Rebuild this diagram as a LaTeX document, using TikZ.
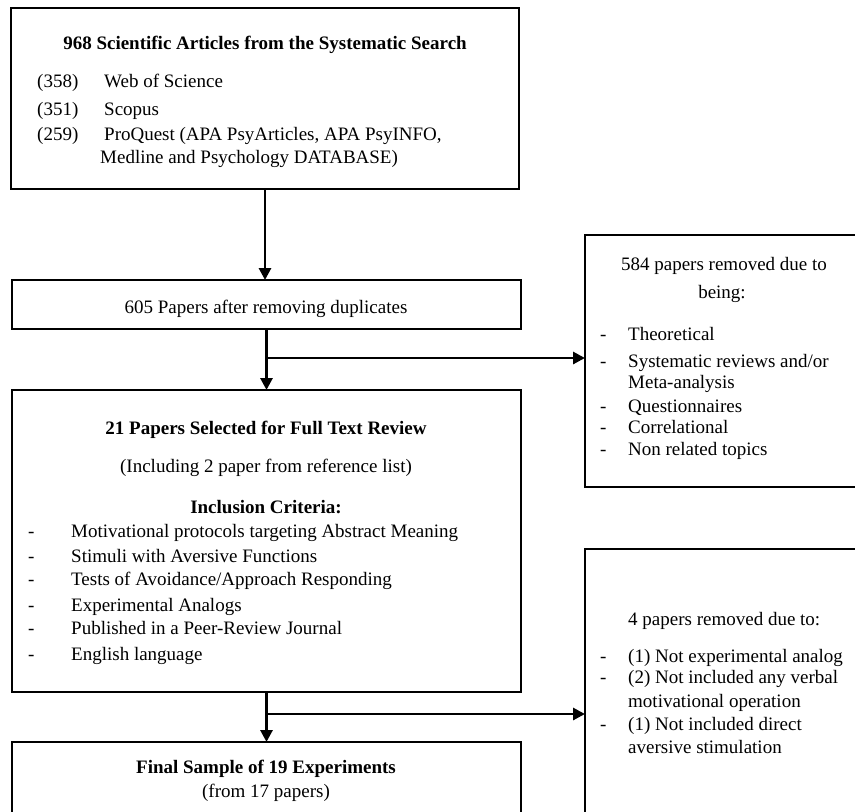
\documentclass[tikz,border=0pt]{standalone}
\usepackage{fontspec}
\setmainfont{Liberation Serif}
\usetikzlibrary{arrows.meta}
\begin{document}
\begin{tikzpicture}[x=1pt,y=-1pt,
  box/.style={draw, line width=1.8pt, rectangle, anchor=north west, inner sep=0pt, outer sep=0pt},
  txt/.style={inner sep=0pt, font=\fontsize{19}{22}\selectfont},
  lt/.style={txt, anchor=base west},
  ct/.style={txt, anchor=base},
  flow/.style={line width=2.9pt, -{Triangle[length=12pt,width=12pt]}}
  ]
\useasboundingbox (0,0) rectangle (855,812);
\clip (0,0) rectangle (855,812);

% boxes
\node[box, minimum width=508pt, minimum height=181pt] (b1) at (11,8) {};
\node[box, minimum width=509pt, minimum height=49pt] (b2) at (12,280) {};
\node[box, minimum width=509pt, minimum height=302pt] (b3) at (12,390) {};
\node[box, minimum width=509pt, minimum height=100pt] (b4) at (12,742) {};
\node[box, minimum width=280pt, minimum height=252pt] (r1) at (585,235) {};
\node[box, minimum width=280pt, minimum height=300pt] (r2) at (585,549) {};

% box 1 text
\node[ct, font=\fontsize{19}{22}\selectfont\bfseries] (t1) at (265,49) {968 Scientific Articles from the Systematic Search};
\node[lt] (n1) at (37,87) {(358)};
\node[lt] (s1) at (104,87) {Web of Science};
\node[lt] (n2) at (37,115) {(351)};
\node[lt] (s2) at (104,115) {Scopus};
\node[lt] (n3) at (37,140) {(259)};
\node[lt] (s3) at (104,140) {ProQuest (APA PsyArticles, APA PsyINFO,};
\node[lt] (s4) at (100,163) {Medline and Psychology DATABASE)};

% box 2 text
\node[ct] (t2) at (266,313) {605 Papers after removing duplicates};

% box 3 text
\node[ct, font=\fontsize{19}{22}\selectfont\bfseries] (t3) at (266,434) {21 Papers Selected for Full Text Review};
\node[ct] (t3b) at (266,472) {(Including 2 paper from reference list)};
\node[ct, font=\fontsize{19}{22}\selectfont\bfseries] (t3c) at (266,513) {Inclusion Criteria:};
\foreach \yy/\tx [count=\i] in {537/Motivational protocols targeting Abstract Meaning,
    562/Stimuli with Aversive Functions,
    585/Tests of Avoidance\slash Approach Responding,
    611/Experimental Analogs,
    634/Published in a Peer-Review Journal,
    660/English language}{
  \node[lt] (cd\i) at (28,\yy) {-};
  \node[lt] (ct\i) at (71,\yy) {\tx};
}

% box 4 text
\node[ct, font=\fontsize{19}{22}\selectfont\bfseries] (t4) at (266,773) {Final Sample of 19 Experiments};
\node[ct] (t4b) at (266,797) {(from 17 papers)};

% right box 1 text
\node[ct] (r1a) at (724,270) {584 papers removed due to};
\node[ct] (r1b) at (722,298) {being:};
\foreach \yy/\tx/\d [count=\i] in {340/Theoretical/-,
    367/Systematic reviews and\slash or/-,
    388/Meta-analysis/,
    412/Questionnaires/-,
    433/Correlational/-,
    455/Non related topics/-}{
  \node[lt] (rd\i) at (600,\yy) {\d};
  \node[lt] (rt\i) at (628,\yy) {\tx};
}

% right box 2 text
\node[lt] (r2a) at (628,625) {4 papers removed due to:};
\foreach \yy/\tx/\d [count=\i] in {662/(1) Not experimental analog/-,
    683/(2) Not included any verbal/-,
    707/motivational operation/,
    730/(1) Not included direct/-,
    753/aversive stimulation/}{
  \node[lt] (sd\i) at (600,\yy) {\d};
  \node[lt] (st\i) at (628,\yy) {\tx};
}

% connectors
\draw[flow] (b1.south) -- (b1.south |- b2.north);
\path (b2.south) ++(0,29) coordinate (j1);
\path (b3.south) ++(0,22) coordinate (j2);
\draw[flow] (b2.south) -- (b3.north);
\draw[flow] (j1) -- (j1 -| r1.west);
\draw[flow] (b3.south) -- (b4.north);
\draw[flow] (j2) -- (j2 -| r2.west);
\end{tikzpicture}
\end{document}
